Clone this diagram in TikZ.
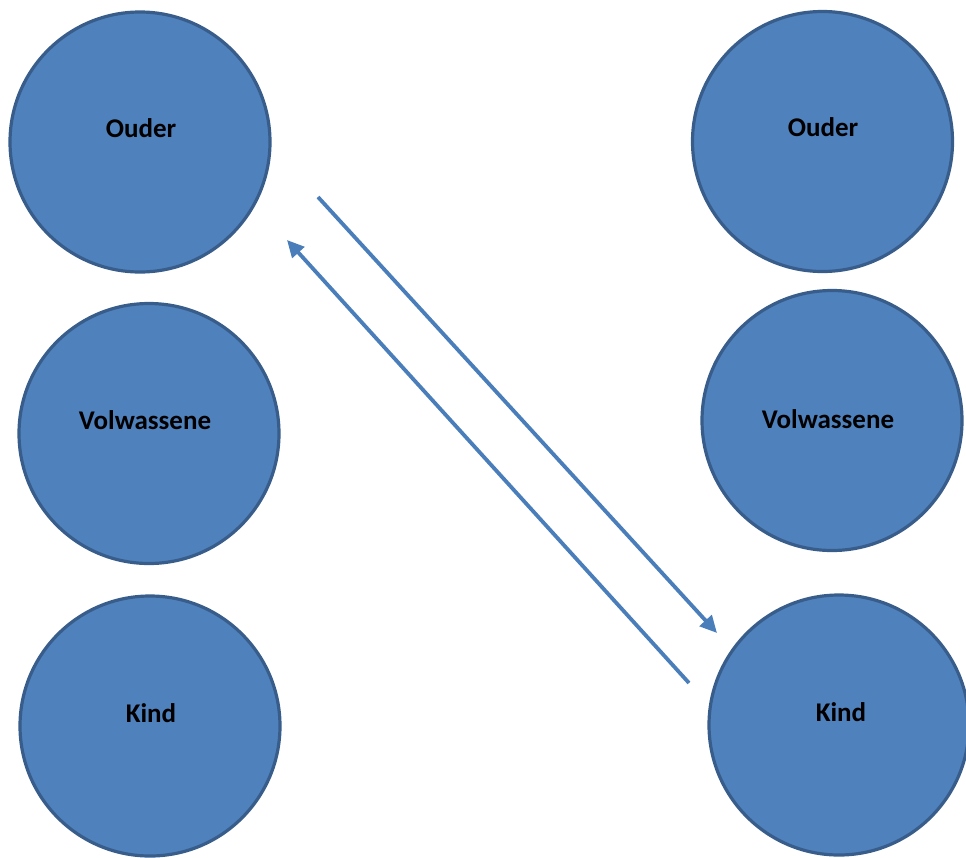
\documentclass[tikz,border=0pt]{standalone}
\usepackage{fontspec}
\setmainfont{Carlito}
\usetikzlibrary{arrows.meta}
\definecolor{fillblue}{HTML}{4F81BD}
\definecolor{edgeblue}{HTML}{385D8A}
\definecolor{arrowblue}{HTML}{4A7EBB}
\begin{document}
\begin{tikzpicture}[x=1pt,y=-1pt,
  ball/.style={circle,draw=edgeblue,fill=fillblue,line width=3.2pt,minimum size=260pt,inner sep=0pt},
  lbl/.style={font=\fontsize{27}{31}\selectfont\bfseries,text=black,inner sep=0pt},
  conn/.style={draw=arrowblue,line width=3.8pt,-{Triangle[length=17pt,width=16pt]}}]
\useasboundingbox (0,0) rectangle (966,857);
\begin{scope}
\clip (0,0) rectangle (966,857);
\node[ball] (lo) at (140,142) {};
\node[ball] (lv) at (149,433.5) {};
\node[ball] (lk) at (150,726) {};
\node[ball] (ro) at (822.5,141.5) {};
\node[ball] (rv) at (832,420.5) {};
\node[ball] (rk) at (839,725) {};
\end{scope}
\node[lbl] (tlo) at (141,128) {Ouder};
\node[lbl] (tlv) at (145,420) {Volwassene};
\node[lbl] (tlk) at (151,713) {Kind};
\node[lbl] (tro) at (823,127) {Ouder};
\node[lbl] (trv) at (828,419) {Volwassene};
\node[lbl] (trk) at (841,712) {Kind};
\coordinate (a1s) at (318,197);
\coordinate (a1e) at (717,633);
\coordinate (a2s) at (689,683);
\coordinate (a2e) at (287,240);
\draw[conn] (a1s) -- (a1e);
\draw[conn] (a2s) -- (a2e);
\end{tikzpicture}
\end{document}
